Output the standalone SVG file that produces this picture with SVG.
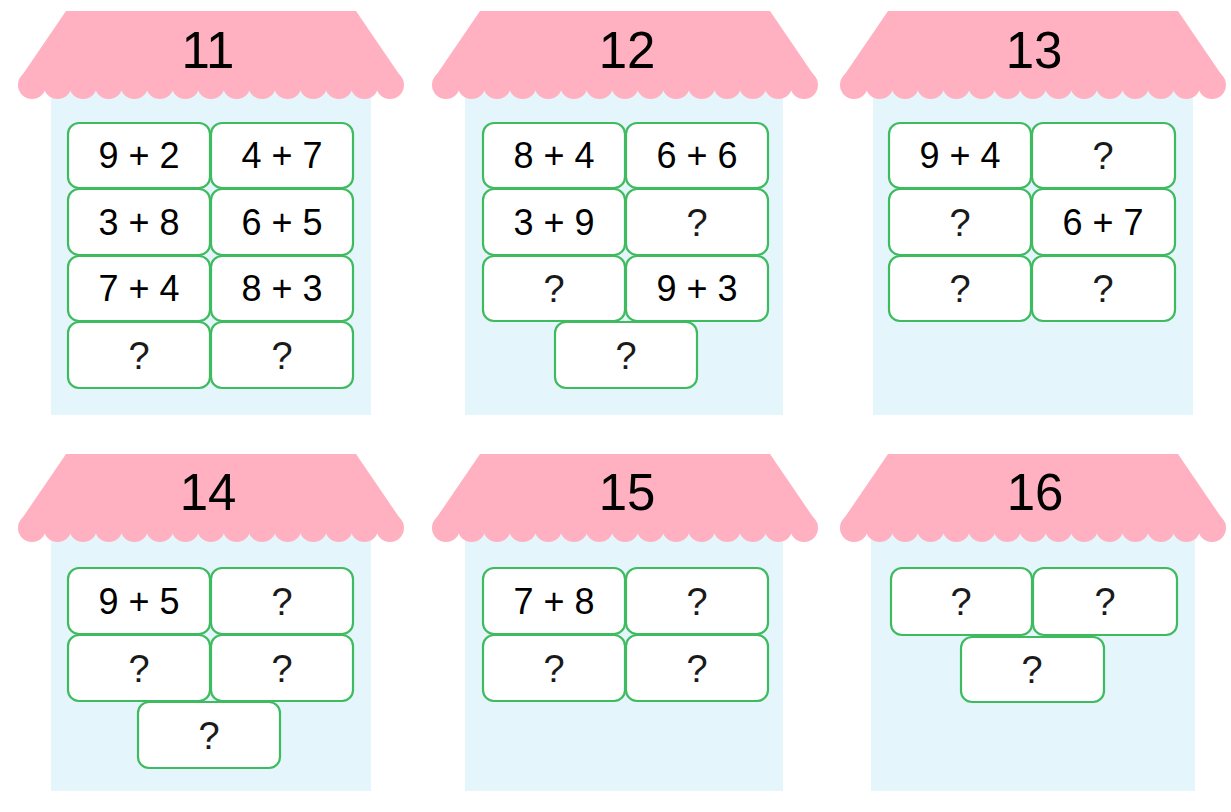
<svg xmlns="http://www.w3.org/2000/svg" xmlns:xlink="http://www.w3.org/1999/xlink" width="1231" height="812" viewBox="0 0 1231 812">
<style>
.body{fill:#e4f6fc}
.roof{fill:#ffb1c1}
.box{fill:#ffffff;stroke:#3fbb5f;stroke-width:2.2}
.t{font-family:"Liberation Sans",Arial,sans-serif;font-size:36px;text-anchor:middle;fill:#000}
.q{font-family:"Liberation Sans",Arial,sans-serif;font-size:38px;text-anchor:middle;fill:#1a1a1a}
.n{font-family:"Liberation Sans",Arial,sans-serif;font-size:51px;text-anchor:middle;fill:#000}
</style>
<defs>
<g id="roofShape">
<polygon class="roof" points="-145,0 145,0 190,66 190,76 -190,76 -190,66"/>
<g class="roof">
<circle cx="-179" cy="74" r="14"/><circle cx="-153.4" cy="74" r="14"/><circle cx="-127.9" cy="74" r="14"/><circle cx="-102.3" cy="74" r="14"/><circle cx="-76.7" cy="74" r="14"/><circle cx="-51.1" cy="74" r="14"/><circle cx="-25.6" cy="74" r="14"/><circle cx="0" cy="74" r="14"/><circle cx="25.6" cy="74" r="14"/><circle cx="51.1" cy="74" r="14"/><circle cx="76.7" cy="74" r="14"/><circle cx="102.3" cy="74" r="14"/><circle cx="127.9" cy="74" r="14"/><circle cx="153.4" cy="74" r="14"/><circle cx="179" cy="74" r="14"/>
</g>
</g>
</defs>

<g id="house11">
<rect class="body" x="51" y="90" width="320" height="325"/>
<use xlink:href="#roofShape" transform="translate(211,11)"/>
<text class="n" x="208" y="68">11</text>
<rect class="box" x="68" y="123" width="142" height="65" rx="11"/><text class="t" x="139" y="168">9 + 2</text>
<rect class="box" x="211" y="123" width="142" height="65" rx="11"/><text class="t" x="282" y="168">4 + 7</text>
<rect class="box" x="68" y="189" width="142" height="66" rx="11"/><text class="t" x="139" y="235">3 + 8</text>
<rect class="box" x="211" y="189" width="142" height="66" rx="11"/><text class="t" x="282" y="235">6 + 5</text>
<rect class="box" x="68" y="256" width="142" height="65" rx="11"/><text class="t" x="139" y="301">7 + 4</text>
<rect class="box" x="211" y="256" width="142" height="65" rx="11"/><text class="t" x="282" y="301">8 + 3</text>
<rect class="box" x="68" y="322" width="142" height="66" rx="11"/><text class="q" x="139" y="369">?</text>
<rect class="box" x="211" y="322" width="142" height="66" rx="11"/><text class="q" x="282" y="369">?</text>
</g>

<g id="house12">
<rect class="body" x="465" y="90" width="318" height="325"/>
<use xlink:href="#roofShape" transform="translate(625,11)"/>
<text class="n" x="627" y="68">12</text>
<rect class="box" x="483" y="123" width="142" height="65" rx="11"/><text class="t" x="554" y="168">8 + 4</text>
<rect class="box" x="626" y="123" width="142" height="65" rx="11"/><text class="t" x="697" y="168">6 + 6</text>
<rect class="box" x="483" y="189" width="142" height="66" rx="11"/><text class="t" x="554" y="235">3 + 9</text>
<rect class="box" x="626" y="189" width="142" height="66" rx="11"/><text class="q" x="697" y="236">?</text>
<rect class="box" x="483" y="256" width="142" height="65" rx="11"/><text class="q" x="554" y="302">?</text>
<rect class="box" x="626" y="256" width="142" height="65" rx="11"/><text class="t" x="697" y="301">9 + 3</text>
<rect class="box" x="555" y="322" width="142" height="66" rx="11"/><text class="q" x="626" y="369">?</text>
</g>

<g id="house13">
<rect class="body" x="873" y="90" width="320" height="325"/>
<use xlink:href="#roofShape" transform="translate(1033,11)"/>
<text class="n" x="1034" y="68">13</text>
<rect class="box" x="889" y="123" width="142" height="65" rx="11"/><text class="t" x="960" y="168">9 + 4</text>
<rect class="box" x="1032" y="123" width="143" height="65" rx="11"/><text class="q" x="1103" y="169">?</text>
<rect class="box" x="889" y="189" width="142" height="66" rx="11"/><text class="q" x="960" y="236">?</text>
<rect class="box" x="1032" y="189" width="143" height="66" rx="11"/><text class="t" x="1103" y="235">6 + 7</text>
<rect class="box" x="889" y="256" width="142" height="65" rx="11"/><text class="q" x="960" y="302">?</text>
<rect class="box" x="1032" y="256" width="143" height="65" rx="11"/><text class="q" x="1103" y="302">?</text>
</g>

<g id="house14">
<rect class="body" x="51" y="530" width="320" height="261"/>
<use xlink:href="#roofShape" transform="translate(211,454)"/>
<text class="n" x="208" y="510">14</text>
<rect class="box" x="68" y="568" width="142" height="66" rx="11"/><text class="t" x="139" y="614">9 + 5</text>
<rect class="box" x="211" y="568" width="142" height="66" rx="11"/><text class="q" x="282" y="615">?</text>
<rect class="box" x="68" y="635" width="142" height="66" rx="11"/><text class="q" x="139" y="682">?</text>
<rect class="box" x="211" y="635" width="142" height="66" rx="11"/><text class="q" x="282" y="682">?</text>
<rect class="box" x="138" y="702" width="142" height="66" rx="11"/><text class="q" x="209" y="749">?</text>
</g>

<g id="house15">
<rect class="body" x="465" y="530" width="318" height="261"/>
<use xlink:href="#roofShape" transform="translate(625,454)"/>
<text class="n" x="627" y="510">15</text>
<rect class="box" x="483" y="568" width="142" height="66" rx="11"/><text class="t" x="554" y="614">7 + 8</text>
<rect class="box" x="626" y="568" width="142" height="66" rx="11"/><text class="q" x="697" y="615">?</text>
<rect class="box" x="483" y="635" width="142" height="66" rx="11"/><text class="q" x="554" y="682">?</text>
<rect class="box" x="626" y="635" width="142" height="66" rx="11"/><text class="q" x="697" y="682">?</text>
</g>

<g id="house16">
<rect class="body" x="871" y="530" width="324" height="261"/>
<use xlink:href="#roofShape" transform="translate(1033,454)"/>
<text class="n" x="1035" y="510">16</text>
<rect class="box" x="891" y="568" width="141" height="67" rx="11"/><text class="q" x="961" y="615">?</text>
<rect class="box" x="1033" y="568" width="144" height="67" rx="11"/><text class="q" x="1105" y="615">?</text>
<rect class="box" x="961" y="637" width="143" height="65" rx="11"/><text class="q" x="1032" y="683">?</text>
</g>
</svg>
